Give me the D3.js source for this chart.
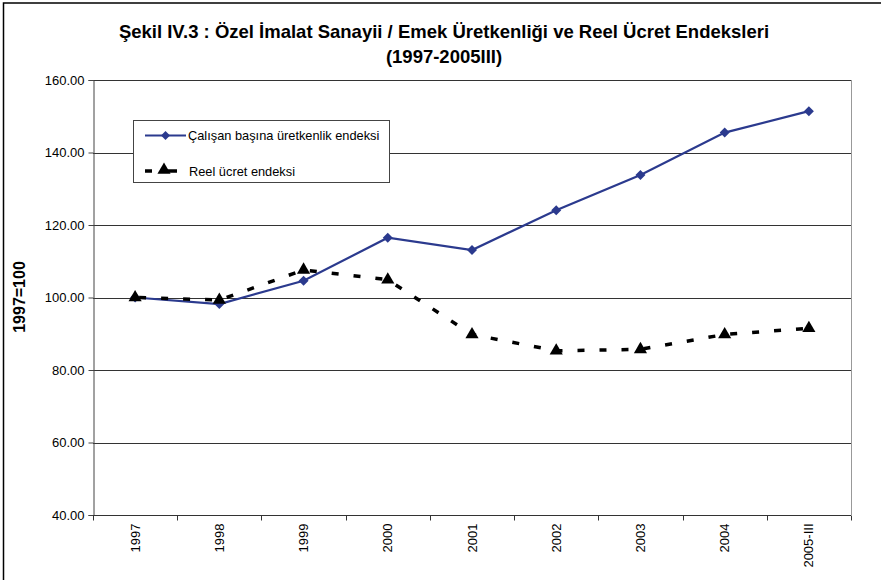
<!DOCTYPE html>
<html>
<head>
<meta charset="utf-8">
<script src="https://cdn.jsdelivr.net/npm/d3@7"></script>
<style>
  html, body { margin: 0; padding: 0; background: #fff; }
  svg { display: block; font-family: "Liberation Sans", Arial, sans-serif; }
</style>
</head>
<body>
<svg id="chart" width="881" height="580"></svg>
<script>
const titleLines = ["Şekil IV.3 : Özel İmalat Sanayii / Emek Üretkenliği ve Reel Ücret Endeksleri", "(1997-2005III)"];
const yAxisTitle = "1997=100";
const categories = ["1997", "1998", "1999", "2000", "2001", "2002", "2003", "2004", "2005-III"];
const productivity = [100.0, 98.2, 104.6, 116.5, 113.1, 124.1, 133.8, 145.5, 151.4];
const realWage = [100.0, 99.3, 107.6, 104.9, 89.8, 85.3, 85.7, 89.8, 91.5];
const yTicks = [40, 60, 80, 100, 120, 140, 160];
const seriesNames = ["Çalışan başına üretkenlik endeksi", "Reel ücret endeksi"];

const svg = d3.select("#chart");
const plot = { left: 93, right: 851, top: 80, bottom: 515 };

// outer border
svg.append("rect").attr("x", 3.5).attr("y", 3).attr("width", 900).attr("height", 600)
  .attr("fill", "none").attr("stroke", "#000").attr("stroke-width", 1.5);

// title
svg.append("text").attr("x", 444).attr("y", 38).attr("text-anchor", "middle")
  .attr("font-size", 18.5).attr("font-weight", "bold").text(titleLines[0]);
svg.append("text").attr("x", 444).attr("y", 63).attr("text-anchor", "middle")
  .attr("font-size", 18.5).attr("font-weight", "bold").text(titleLines[1]);

const x = d3.scaleBand().domain(categories).range([plot.left, plot.right]).padding(0);
const y = d3.scaleLinear().domain([40, 160]).range([plot.bottom, plot.top]);
const cx = d => x(d) + x.bandwidth() / 2;

// gridlines
svg.append("g").selectAll("line").data(yTicks.filter(v => v > 40)).join("line")
  .attr("x1", plot.left).attr("x2", plot.right)
  .attr("y1", d => Math.round(y(d)) + 0.5).attr("y2", d => Math.round(y(d)) + 0.5)
  .attr("stroke", "#333").attr("stroke-width", 1);

// right border of plot area
svg.append("line").attr("x1", plot.right + 0.5).attr("x2", plot.right + 0.5)
  .attr("y1", plot.top).attr("y2", plot.bottom).attr("stroke", "#999").attr("stroke-width", 1);

// y axis
const yAxis = d3.axisLeft(y).tickValues(yTicks).tickFormat(d3.format(".2f")).tickSize(5).tickPadding(4);
const gy = svg.append("g").attr("transform", `translate(${plot.left + 0.5},0)`).call(yAxis);
gy.select(".domain").attr("stroke", "#444");
gy.selectAll(".tick line").attr("stroke", "#444");
gy.selectAll("text").attr("font-size", 13).attr("font-family", "Liberation Sans, Arial, sans-serif").attr("fill", "#000");

// x axis
const gx = svg.append("g").attr("transform", `translate(0,${plot.bottom + 0.5})`);
gx.append("line").attr("x1", plot.left).attr("x2", plot.right).attr("stroke", "#333");
const boundaries = categories.map(c => x(c)).concat([plot.right]);
gx.selectAll("line.tk").data(boundaries).join("line").attr("class", "tk")
  .attr("x1", d => Math.round(d) + 0.5).attr("x2", d => Math.round(d) + 0.5)
  .attr("y1", 0).attr("y2", 5).attr("stroke", "#333");
gx.selectAll("text").data(categories).join("text")
  .attr("transform", d => `translate(${cx(d) + 4.5},8) rotate(-90)`)
  .attr("text-anchor", "end").attr("font-size", 13).text(d => d);

// y axis title
svg.append("text").attr("transform", "translate(25,297) rotate(-90)")
  .attr("text-anchor", "middle").attr("font-size", 16).attr("font-weight", "bold").text(yAxisTitle);

// productivity line
const blue = "#2b3a8e";
const line = d3.line().x((d, i) => cx(categories[i])).y(d => y(d));
svg.append("path").datum(productivity).attr("d", line)
  .attr("fill", "none").attr("stroke", blue).attr("stroke-width", 2.2);
svg.append("g").selectAll("path").data(productivity).join("path")
  .attr("d", d3.symbol().type(d3.symbolSquare).size(50))
  .attr("transform", (d, i) => `translate(${cx(categories[i])},${y(d)}) rotate(45)`)
  .attr("fill", blue);

// real wage line
svg.append("path").datum(realWage).attr("d", line)
  .attr("fill", "none").attr("stroke", "#000").attr("stroke-width", 3.5)
  .attr("stroke-dasharray", "7,15").attr("stroke-dashoffset", -4);
const tri = d3.symbol().type(d3.symbolTriangle).size(75);
svg.append("g").selectAll("path").data(realWage).join("path")
  .attr("transform", (d, i) => `translate(${cx(categories[i])},${y(d)})`)
  .attr("d", tri).attr("fill", "#000");

// legend
const lg = svg.append("g");
lg.append("rect").attr("x", 133.5).attr("y", 120.5).attr("width", 256).attr("height", 62)
  .attr("fill", "#fff").attr("stroke", "#444");
lg.append("line").attr("x1", 145).attr("x2", 186).attr("y1", 135.5).attr("y2", 135.5)
  .attr("stroke", blue).attr("stroke-width", 2.2);
lg.append("path").attr("d", d3.symbol().type(d3.symbolSquare).size(40))
  .attr("transform", "translate(165.5,135.5) rotate(45)").attr("fill", blue);
lg.append("text").attr("x", 188).attr("y", 140).attr("font-size", 12.8).text(seriesNames[0]);
lg.append("line").attr("x1", 145).attr("x2", 152).attr("y1", 171).attr("y2", 171)
  .attr("stroke", "#000").attr("stroke-width", 3.5);
lg.append("line").attr("x1", 167).attr("x2", 177).attr("y1", 171).attr("y2", 171)
  .attr("stroke", "#000").attr("stroke-width", 3.5);
lg.append("path").attr("d", tri).attr("transform", "translate(164,170)").attr("fill", "#000");
lg.append("text").attr("x", 189).attr("y", 175.5).attr("font-size", 12.8).text(seriesNames[1]);
</script>
</body>
</html>
